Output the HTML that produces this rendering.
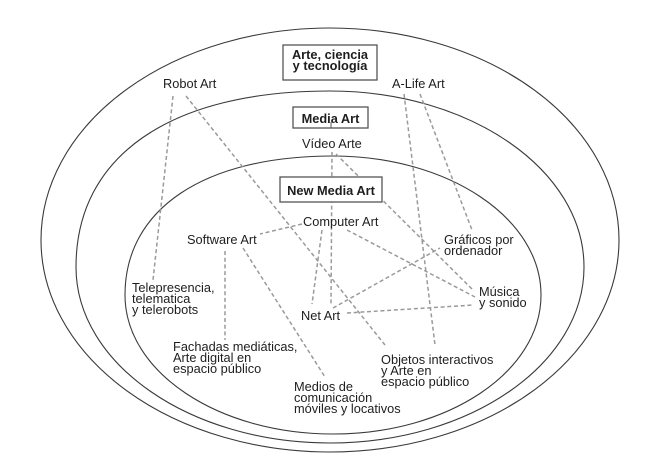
<!DOCTYPE html>
<html>
<head>
<meta charset="utf-8">
<style>
  html, body { margin: 0; padding: 0; background: #fff; }
  svg { display: block; }
  text { font-family: "Liberation Sans", Arial, sans-serif; fill: #1e1e1e; }
  .r { font-size: 12.8px; }
  .b { font-size: 12.8px; font-weight: bold; }
</style>
</head>
<body>
<svg width="659" height="466" viewBox="0 0 659 466" xmlns="http://www.w3.org/2000/svg">
  <rect width="659" height="466" fill="#fff"/>

  <!-- ellipses -->
  <g fill="none" stroke="#3a3a3a" stroke-width="1.1">
    <ellipse cx="330" cy="240" rx="289" ry="212"/>
    <path d="M76,267 C76,156 170,91 330,91 C470,91 584,170 584,267 C584,364 470,443 330,443 C190,443 76,364 76,267 Z"/>
    <path d="M125,295 C125,209 204,156 333,156 C448,156 541,218 541,295 C541,372 448,434 333,434 C218,434 125,372 125,295 Z"/>
  </g>

  <!-- dashed connectors -->
  <g fill="none" stroke="#9a9a9a" stroke-width="1.5" stroke-dasharray="4,2.7">
    <line x1="173" y1="96" x2="153" y2="280"/>
    <line x1="186" y1="96" x2="385" y2="345"/>
    <line x1="404" y1="94" x2="435" y2="345"/>
    <line x1="420" y1="94" x2="472" y2="230"/>
    <line x1="332" y1="152" x2="331" y2="306"/>
    <line x1="336" y1="154" x2="474" y2="291"/>
    <line x1="302" y1="224" x2="260" y2="234"/>
    <line x1="322" y1="230" x2="312" y2="304"/>
    <line x1="347" y1="230" x2="475" y2="297"/>
    <line x1="333" y1="308" x2="440" y2="248"/>
    <line x1="347" y1="313" x2="474" y2="305"/>
    <line x1="225" y1="251" x2="225" y2="340"/>
    <line x1="243" y1="248" x2="325" y2="377"/>
  </g>

  <!-- boxes -->
  <g fill="#fff" stroke="#555" stroke-width="1.3">
    <rect x="283" y="45" width="94" height="35"/>
    <rect x="293" y="107" width="75" height="21"/>
    <rect x="280" y="177" width="102" height="25"/>
  </g>
  <line x1="331" y1="122" x2="331" y2="128" stroke="#555" stroke-width="1"/>

  <!-- box labels -->
  <text class="b" x="330" y="59" text-anchor="middle">Arte, ciencia</text>
  <text class="b" x="330" y="70" text-anchor="middle">y tecnología</text>
  <text class="b" x="330.5" y="123" text-anchor="middle">Media Art</text>
  <text class="b" x="331" y="195" text-anchor="middle">New Media Art</text>

  <!-- labels -->
  <text class="r" x="163" y="88">Robot Art</text>
  <text class="r" x="392" y="88">A-Life Art</text>
  <text class="r" x="302" y="148">Vídeo Arte</text>
  <text class="r" x="303" y="226">Computer Art</text>
  <text class="r" x="187" y="244">Software Art</text>

  <text class="r" x="444" y="244">Gráficos por</text>
  <text class="r" x="444" y="255">ordenador</text>

  <text class="r" x="479" y="296">Música</text>
  <text class="r" x="479" y="307">y sonido</text>

  <text class="r" x="132" y="292">Telepresencia,</text>
  <text class="r" x="132" y="303">telematica</text>
  <text class="r" x="132" y="314">y telerobots</text>

  <text class="r" x="301" y="320">Net Art</text>

  <text class="r" x="173" y="351">Fachadas mediáticas,</text>
  <text class="r" x="173" y="362">Arte digital en</text>
  <text class="r" x="173" y="373">espacio público</text>

  <text class="r" x="381" y="364">Objetos interactivos</text>
  <text class="r" x="381" y="375">y Arte en</text>
  <text class="r" x="381" y="386">espacio público</text>

  <text class="r" x="294" y="391">Medios de</text>
  <text class="r" x="294" y="402">comunicación</text>
  <text class="r" x="294" y="413">móviles y locativos</text>
</svg>
</body>
</html>
